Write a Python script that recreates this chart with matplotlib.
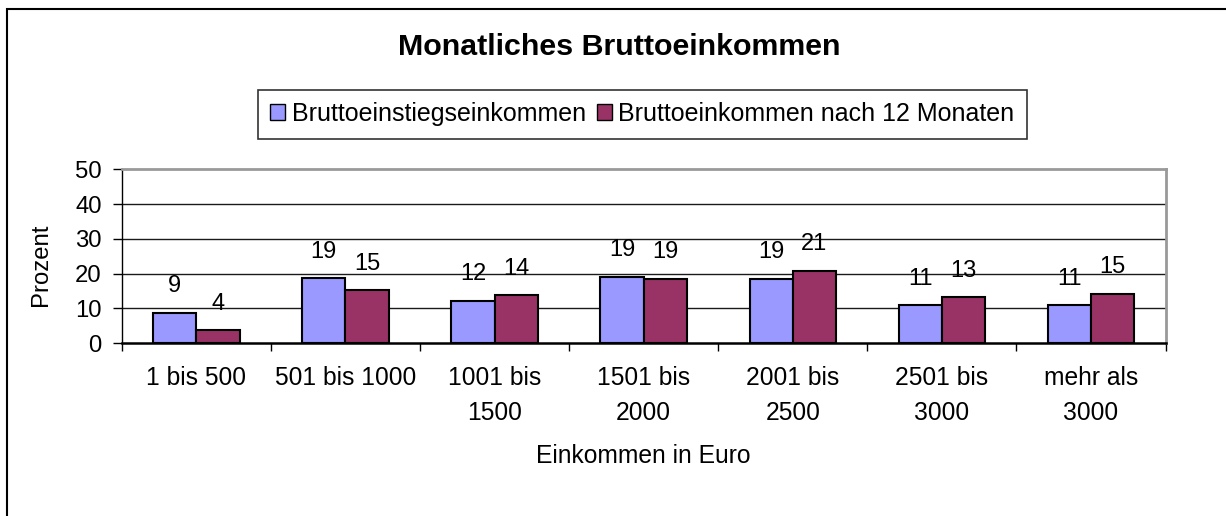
import numpy as np
import matplotlib.pyplot as plt
from matplotlib.patches import Rectangle, Patch

plt.rcParams['font.family'] = ['Liberation Sans', 'DejaVu Sans']

categories = ['1 bis 500', '501 bis 1000', '1001 bis\n1500', '1501 bis\n2000',
              '2001 bis\n2500', '2501 bis\n3000', 'mehr als\n3000']
einstieg = [8.8, 18.7, 12.2, 19.1, 18.6, 10.9, 10.9]
nach12 = [3.8, 15.3, 13.8, 18.6, 20.9, 13.2, 14.3]
einstieg_labels = ['9', '19', '12', '19', '19', '11', '11']
nach12_labels = ['4', '15', '14', '19', '21', '13', '15']
series_names = ['Bruttoeinstiegseinkommen', 'Bruttoeinkommen nach 12 Monaten']

blue = '#9999FF'
purple = '#993366'

fig = plt.figure(figsize=(12.26, 5.16), dpi=100)
ax = fig.add_axes([0.0993, 0.3347, 0.8514, 0.3372])

x = np.arange(len(categories))
w = 0.29
b1 = ax.bar(x - w / 2, einstieg, w, color=blue, edgecolor='black', linewidth=1.5, zorder=3)
b2 = ax.bar(x + w / 2, nach12, w, color=purple, edgecolor='black', linewidth=1.5, zorder=3)

for bars, labels in [(b1, einstieg_labels), (b2, nach12_labels)]:
    for rect, lab in zip(bars, labels):
        ax.annotate(lab, (rect.get_x() + rect.get_width() / 2, rect.get_height()),
                    xytext=(0, 19), textcoords='offset points',
                    ha='center', va='center', fontsize=17)

ax.set_xlim(-0.5, len(categories) - 0.5)
ax.set_ylim(0, 50)
ax.set_yticks([0, 10, 20, 30, 40, 50])
ax.set_xticks(x)
ax.set_xticklabels(categories, fontsize=17.7, linespacing=1.6)
ax.set_xticks(np.arange(len(categories) + 1) - 0.5, minor=True)
ax.tick_params(axis='x', which='major', length=0, pad=16)
ax.tick_params(axis='x', which='minor', length=6, width=1, color='black', direction='out')
ax.tick_params(axis='y', length=6.5, width=1, pad=8, labelsize=17.2)

for yv in [10, 20, 30, 40]:
    ax.axhline(yv, color='#1a1a1a', linewidth=1, zorder=1)

ax.spines['top'].set_color('#999999')
ax.spines['top'].set_linewidth(2)
ax.spines['right'].set_color('#999999')
ax.spines['right'].set_linewidth(2)
ax.spines['left'].set_linewidth(1)
ax.spines['bottom'].set_linewidth(1.8)

ax.set_xlabel('Einkommen in Euro', fontsize=17.7)
ax.xaxis.set_label_coords(0.5, -0.58)
ax.set_ylabel('Prozent', fontsize=17.2)
ax.yaxis.set_label_coords(-0.067, 0.45)

fig.text(0.505, 0.909, 'Monatliches Bruttoeinkommen', ha='center', va='center',
         fontsize=21.9, fontweight='bold')

handles = [Patch(facecolor=blue, edgecolor='black'), Patch(facecolor=purple, edgecolor='black')]
leg = fig.legend(handles, series_names, loc='center', bbox_to_anchor=(0.524, 0.779),
                 ncol=2, fontsize=18.0, frameon=True, fancybox=False,
                 handlelength=0.6, handleheight=0.6, handletextpad=0.25,
                 columnspacing=0.45, borderpad=0.5, borderaxespad=0)
leg.get_frame().set_edgecolor('black')
leg.get_frame().set_linewidth(1.2)

# outer chart frame
fig.add_artist(Rectangle((6.7 / 1226, -0.1), 1.2, 1.1 - 9 / 516, transform=fig.transFigure,
                         fill=False, edgecolor='black', linewidth=1.5))

plt.savefig('out.png', dpi=100)
